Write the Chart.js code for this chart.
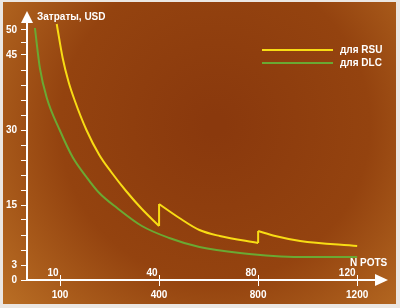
<!DOCTYPE html>
<html>
<head>
<meta charset="utf-8">
<script src="https://cdn.jsdelivr.net/npm/chart.js@4"></script>
<style>
    html, body { margin: 0; padding: 0; background: #ebe7e3; }
    canvas { display: block; }
</style>
</head>
<body>
<canvas id="myChart" width="400" height="308"></canvas>
<script>
// y axis: tick marks and which of them get a label
const yTickValues = [0, 3, 6, 9, 12, 15, 18, 21, 24, 27, 30, 33, 36, 39, 42, 45, 47.5, 50];
const yLabels = [0, 3, 15, 30, 45, 50];

// x axis: number of ports (lower row) and POTS (upper row)
const nTicks = [100, 400, 800, 1200];
const potsTicks = [10, 40, 80, 120];

const seriesNames = ['для RSU', 'для DLC'];
const seriesColors = ['#f8dc14', '#6aa933'];

// costs, USD per port
const rsuN = [90, 108, 126, 144, 180, 219, 255, 300, 348, 400, 400, 482, 563, 645, 800, 800, 869, 970, 1200];
const rsuCost = [51.2, 44.4, 39.6, 36, 30, 25, 21.6, 17.8, 14.2, 10.8, 15.2, 12.4, 10, 8.8, 7.4, 9.8, 8.8, 7.8, 6.8];

const dlcN = [24, 39, 60, 99, 138, 180, 219, 273, 348, 441, 563, 727, 968, 1200];
const dlcCost = [50.4, 42.4, 36.4, 30, 24.6, 20.6, 17.4, 14.4, 10.8, 8.4, 6.6, 5.4, 4.6, 4.6];

document.addEventListener("DOMContentLoaded", () => {
    displayChart();
})

// the x axis is not linear: the labelled ticks sit at equal steps
function axisPos(n) {
    const knots = [0].concat(nTicks);
    const pos = [2 / 3, 1, 2, 3, 4];
    for (let i = 1; i < knots.length; i++) {
        if (n <= knots[i] || i == knots.length - 1) {
            return pos[i - 1] + (n - knots[i - 1]) / (knots[i] - knots[i - 1]) * (pos[i] - pos[i - 1]);
        }
    }
}

function lineSet(points, color, smooth) {
    return {
        data: points,
        borderColor: color,
        borderWidth: 2,
        pointRadius: 0,
        cubicInterpolationMode: smooth ? 'monotone' : 'default',
        tension: 0,
        fill: false,
        borderJoinStyle: 'round'
    };
}

// smooth pieces, straight vertical jumps where N repeats
function buildDatasets(ns, costs, color) {
    let sets = [];
    let run = [];
    for (let i = 0; i < ns.length; i++) {
        const pt = { x: axisPos(ns[i]), y: costs[i] };
        if (run.length && ns[i] === ns[i - 1]) {
            sets.push(lineSet(run, color, true));
            sets.push(lineSet([run[run.length - 1], pt], color, false));
            run = [];
        }
        run.push(pt);
    }
    sets.push(lineSet(run, color, true));
    return sets;
}

const boldFont = { family: "'Liberation Sans', Arial, sans-serif", size: 10, weight: 'bold' };

const decorations = {
    id: 'decorations',
    beforeDraw(chart) {
        const ctx = chart.ctx;
        ctx.save();
        const g = ctx.createRadialGradient(215, 125, 10, 215, 125, 300);
        g.addColorStop(0, '#8a390d');
        g.addColorStop(0.5, '#94430f');
        g.addColorStop(1, '#c07628');
        ctx.fillStyle = g;
        ctx.fillRect(3, 2, 393, 302);
        ctx.restore();
    },
    afterDraw(chart) {
        const ctx = chart.ctx;
        const area = chart.chartArea;
        const xs = chart.scales.x;
        ctx.save();
        ctx.fillStyle = '#ffffff';
        ctx.strokeStyle = '#ffffff';

        // arrow heads
        ctx.beginPath();
        ctx.moveTo(area.left, area.top - 9);
        ctx.lineTo(area.left - 6, area.top + 3);
        ctx.lineTo(area.left + 6, area.top + 3);
        ctx.closePath();
        ctx.fill();
        ctx.beginPath();
        ctx.moveTo(area.right + 12, area.bottom);
        ctx.lineTo(area.right - 1, area.bottom - 6);
        ctx.lineTo(area.right - 1, area.bottom + 6);
        ctx.closePath();
        ctx.fill();

        ctx.font = "bold 10px 'Liberation Sans', Arial, sans-serif";
        ctx.textBaseline = 'middle';

        // upper tick row
        ctx.lineWidth = 1;
        ctx.textAlign = 'right';
        potsTicks.forEach((p, i) => {
            const x = Math.round(xs.getPixelForValue(axisPos(nTicks[i]))) + 0.5;
            ctx.beginPath();
            ctx.moveTo(x, area.bottom - 5);
            ctx.lineTo(x, area.bottom);
            ctx.stroke();
            ctx.fillText(String(p), x - 2, area.bottom - 7);
        });

        ctx.textAlign = 'left';
        ctx.fillText('N POTS', 350, 263);
        ctx.fillText('Затраты, USD', 37, 17);

        // legend
        seriesNames.forEach((name, i) => {
            const y = 50 + i * 13;
            ctx.strokeStyle = seriesColors[i];
            ctx.lineWidth = 2;
            ctx.beginPath();
            ctx.moveTo(262, y);
            ctx.lineTo(333, y);
            ctx.stroke();
            ctx.fillStyle = '#ffffff';
            ctx.fillText(name, 340, y);
        });
        ctx.restore();
    }
};

function displayChart() {
    var ctx = document.getElementById('myChart');
    var datasets = buildDatasets(rsuN, rsuCost, seriesColors[0])
        .concat(buildDatasets(dlcN, dlcCost, seriesColors[1]));

    new Chart(ctx, {
        type: 'line',
        data: { datasets: datasets },
        options: {
            responsive: false,
            animation: false,
            layout: { padding: { left: 0, right: 24, top: 20, bottom: 0 } },
            plugins: {
                legend: { display: false },
                tooltip: { enabled: false }
            },
            scales: {
                x: {
                    type: 'linear',
                    min: 2 / 3,
                    max: 4.19,
                    afterBuildTicks: (s) => { s.ticks = nTicks.map(n => ({ value: axisPos(n) })); },
                    afterFit: (s) => { s.height = 28; },
                    ticks: {
                        callback: (v, i) => String(nTicks[i]),
                        color: '#ffffff',
                        font: boldFont,
                        padding: 3,
                        maxRotation: 0,
                        autoSkip: false
                    },
                    grid: { drawOnChartArea: false, tickLength: 6, color: '#ffffff', lineWidth: 1 },
                    border: { color: '#ffffff', width: 2 }
                },
                y: {
                    min: 0,
                    max: 52,
                    afterBuildTicks: (s) => { s.ticks = yTickValues.map(v => ({ value: v })); },
                    afterFit: (s) => { s.width = 27; },
                    ticks: {
                        callback: (v) => yLabels.includes(v) ? String(v) : '',
                        color: '#ffffff',
                        font: boldFont,
                        padding: 4,
                        autoSkip: false
                    },
                    grid: { drawOnChartArea: false, tickLength: 6, color: '#ffffff', lineWidth: 1 },
                    border: { color: '#ffffff', width: 2 }
                }
            }
        },
        plugins: [decorations]
    });
}
</script>
</body>
</html>
